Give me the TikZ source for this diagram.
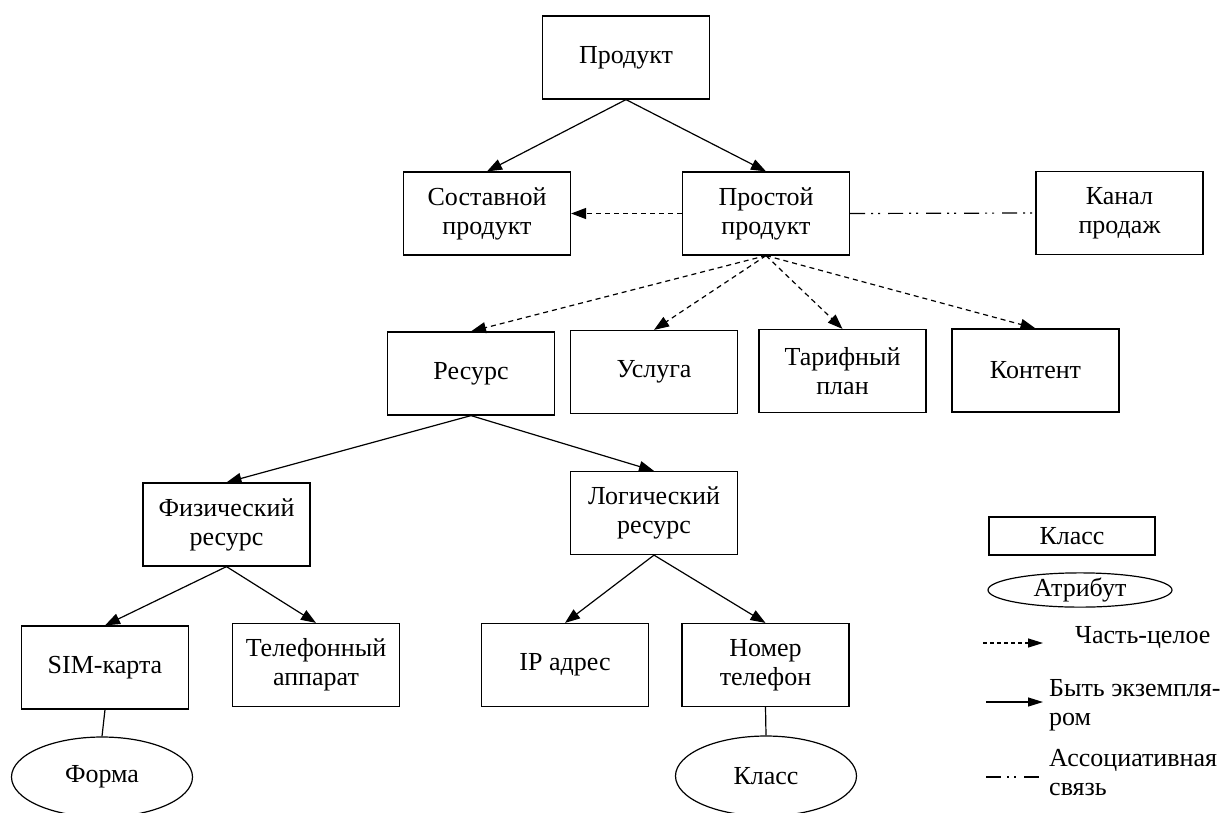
\documentclass[tikz,border=0pt]{standalone}
\usepackage{fontspec}
\setmainfont{Liberation Serif}
\usetikzlibrary{arrows.meta,shapes.geometric}
\begin{document}
\begin{tikzpicture}[x=1pt,y=-1pt,
  every node/.style={font=\fontsize{26}{29}\selectfont, align=center, inner sep=0pt},
  cls/.style={draw, line width=1.2pt, minimum width=167pt, minimum height=83pt},
  attr/.style={draw, ellipse, line width=1.2pt, minimum width=181pt, minimum height=80pt},
  inst/.style={line width=1.2pt, -{Triangle[length=15pt,width=11pt]}},
  part/.style={line width=1.2pt, dash pattern=on 5pt off 4pt, -{Triangle[length=15pt,width=11pt]}},
  lgtip/.style={-{Triangle[length=15pt,width=9pt]}},
  assoc/.style={line width=1.2pt, dash pattern=on 15pt off 6pt on 2pt off 5pt on 2pt off 8pt},
  attrline/.style={line width=1.2pt}
]
\clip (0,0) rectangle (1226,812);
\fill[white] (0,0) rectangle (1226,812);

\node[cls] (prod) at (626,57.5) {Продукт};
\node[cls] (comp) at (487,213.5) {Составной\\продукт};
\node[cls] (simp) at (766,213.5) {Простой\\продукт};
\node[cls] (chan) at (1119.5,213) {Канал\\продаж};
\node[cls] (res) at (471,373.5) {Ресурс};
\node[cls] (serv) at (654,372) {Услуга};
\node[cls] (tarif) at (842.5,371) {Тарифный\\план};
\node[cls] (cont) at (1035.5,370.5) {Контент};
\node[cls] (phys) at (226.5,524.5) {Физический\\ресурс};
\node[cls] (logr) at (654,513) {Логический\\ресурс};
\node[cls] (sim) at (105,667.5) {SIM-карта};
\node[cls] (phone) at (316,665) {Телефонный\\аппарат};
\node[cls] (ip) at (565,665) {IP адрес};
\node[cls] (num) at (765.5,665) {Номер\\телефон};
\node[attr] (forma) at (102,777) {Форма};
\node[attr] (klass) at (766,776) {Класс};

\draw[inst] (prod.south) -- (comp.north);
\draw[inst] (prod.south) -- (simp.north);
\draw[part] (simp.west) -- (comp.east);
\draw[assoc] (simp.east) -- (chan.west);
\draw[part] (simp.south) -- (res.north);
\draw[part] (simp.south) -- (serv.north);
\draw[part] (simp.south) -- (tarif.north);
\draw[part] (simp.south) -- (cont.north);
\draw[inst] (res.south) -- (phys.north);
\draw[inst] (res.south) -- (logr.north);
\draw[inst] (phys.south) -- (sim.north);
\draw[inst] (phys.south) -- (phone.north);
\draw[inst] (logr.south) -- (ip.north);
\draw[inst] (logr.south) -- (num.north);
\draw[attrline] (sim.south) -- (forma.north);
\draw[attrline] (num.south) -- (klass.north);

% legend
\node[draw, line width=1.2pt, minimum width=166pt, minimum height=38pt] (lgcls) at (1072,536) {Класс};
\node[draw, ellipse, line width=1.2pt, minimum width=184pt, minimum height=34pt] (lgattr) at (1080,590) {Атрибут};
\coordinate (l1a) at (983,643); \coordinate (l1b) at (1043,643);
\draw[part, lgtip, dash pattern=on 4pt off 3pt] (l1a) -- (l1b);
\node[anchor=west] (l1t) at (1075,637) {Часть-целое};
\coordinate (l2a) at (986,702); \coordinate (l2b) at (1043,702);
\draw[inst, lgtip] (l2a) -- (l2b);
\node[anchor=west, align=left] (l2t) at (1049,705) {Быть экземпля-\\ром};
\coordinate (l3a) at (986,777); \coordinate (l3b) at (1042,777);
\draw[assoc] (l3a) -- (l3b);
\node[anchor=west, align=left] (l3t) at (1049,773) {Ассоциативная\\связь};
\end{tikzpicture}
\end{document}
